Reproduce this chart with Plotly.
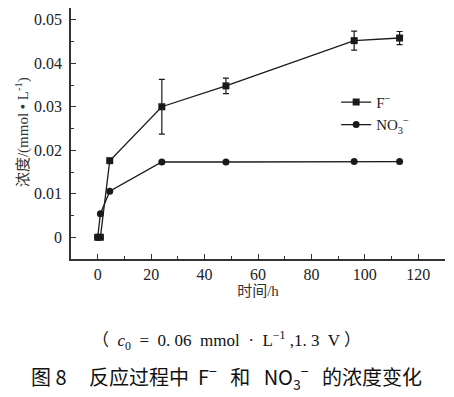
import plotly.graph_objects as go

# Data
time_h = [0, 1, 4.5, 24, 48, 96, 113]
f_conc = [0.0, 0.0, 0.0176, 0.0300, 0.0348, 0.0452, 0.0458]
f_err = [0.0, 0.0, 0.0, 0.0063, 0.0018, 0.0022, 0.0015]
no3_conc = [0.0, 0.0054, 0.0106, 0.0173, 0.0173, 0.0174, 0.0174]

SERIF = "Liberation Serif"
CJK = "Liberation Serif, Noto Sans CJK SC, serif"
INK = "#1a1a1a"

fig = go.Figure()
fig.add_trace(go.Scatter(
    x=time_h, y=f_conc, name="F<sup>−</sup>", mode="lines+markers",
    line=dict(color=INK, width=1.3),
    marker=dict(symbol="square", size=7, color=INK),
    error_y=dict(type="data", array=f_err, visible=True, color=INK, thickness=1.2, width=3),
))
fig.add_trace(go.Scatter(
    x=time_h, y=no3_conc, name="NO<sub>3</sub><sup>−</sup>", mode="lines+markers",
    line=dict(color=INK, width=1.3),
    marker=dict(symbol="circle", size=7, color=INK),
))

axis_common = dict(
    showline=True, linecolor="#333", linewidth=1.5, mirror=False,
    ticks="inside", ticklen=5, tickwidth=1.2, tickcolor="#333",
    showgrid=False, zeroline=False, automargin=False,
    tickfont=dict(family=SERIF, size=16, color="#222"),
)

fig.update_xaxes(
    range=[-10, 130], tick0=0, dtick=20,
    minor=dict(ticks="inside", ticklen=3, dtick=10, tickcolor="#333", tickwidth=1.2),
    title=dict(text="时间/h", font=dict(family=CJK, size=15, color="#333"), standoff=4),
    ticklabelstandoff=0,
    **axis_common,
)
fig.update_yaxes(
    range=[-0.005, 0.0527], tick0=0, dtick=0.01, tickformat="~g",
    minor=dict(ticks="inside", ticklen=3, dtick=0.005, tickcolor="#333", tickwidth=1.2),
    ticklabelstandoff=4,
    **axis_common,
)

fig.update_layout(
    width=454, height=397,
    margin=dict(l=63, r=17, t=0, b=146, autoexpand=False),
    paper_bgcolor="white", plot_bgcolor="white",
    showlegend=True,
    legend=dict(x=0.709, y=0.69, xanchor="left", yanchor="top",
                bgcolor="rgba(0,0,0,0)", itemwidth=30, tracegroupgap=0,
                font=dict(family=SERIF, size=15, color="#222")),
    annotations=[
        dict(text="浓度/(mmol • L<sup>-1</sup>)", textangle=-90,
             xref="paper", yref="paper", x=-0.128, y=0.506, xanchor="center", yanchor="middle",
             showarrow=False, font=dict(family=CJK, size=15, color="#333")),
        dict(text="（  <i>c</i><sub>0</sub>  =  0. 06  mmol  ·  L<sup>−1</sup> ,1. 3  V ）",
             xref="paper", yref="paper", x=0.417, y=-0.323, xanchor="center", yanchor="middle",
             showarrow=False, font=dict(family=CJK, size=17, color="#111")),
        dict(text="图 8     反应过程中  F<sup>−</sup>   和   NO<sub>3</sub><sup>−</sup>   的浓度变化",
             xref="paper", yref="paper", x=0.417, y=-0.474, xanchor="center", yanchor="middle",
             showarrow=False, font=dict(family="Noto Sans CJK SC, serif", size=20, color="#111")),
    ],
)

fig.write_html("out.html")
